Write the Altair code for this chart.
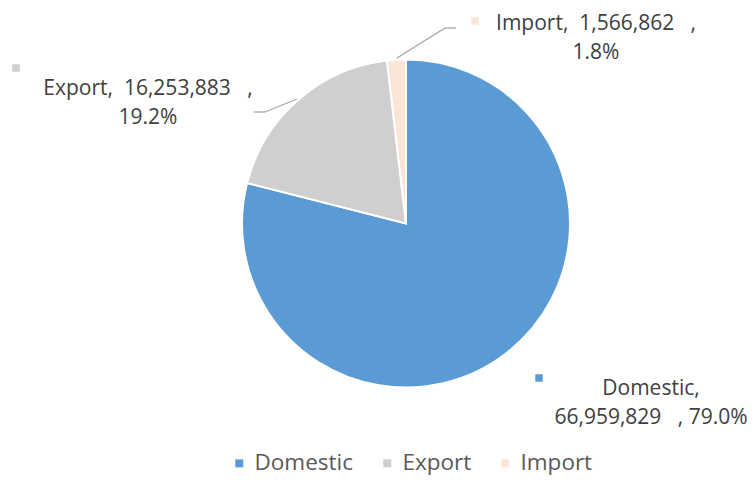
import altair as alt
import pandas as pd

categories = ["Domestic", "Export", "Import"]
values = [66959829, 16253883, 1566862]
percents = ["79.0%", "19.2%", "1.8%"]
colors = ["#5B9BD5", "#D0CECE", "#FBE5D6"]

NB = "\u00a0"
FONT = "Open Sans"

df = pd.DataFrame({"category": categories, "value": values,
                   "order": list(range(len(categories)))})

color_scale = alt.Scale(domain=categories, range=colors)

pie = alt.Chart(df).mark_arc(outerRadius=164, stroke="white", strokeWidth=2).encode(
    theta=alt.Theta("value:Q", stack=True),
    order=alt.Order("order:Q"),
    color=alt.Color("category:N", scale=color_scale, sort=categories,
                    legend=alt.Legend(title=None, orient="none", direction="horizontal",
                                      legendX=220, legendY=444,
                                      symbolType="square", symbolSize=64,
                                      symbolStrokeWidth=0, labelFontSize=22.5,
                                      labelFont=FONT, labelColor="#595959",
                                      labelOffset=4, columnPadding=22)),
    x=alt.value(398), y=alt.value(215.5),
)

# label layout: (text x, text y, marker x, marker y, break after name)
layout = {
    "Domestic": (643, 387, 531, 370, True),
    "Export": (140, 87, 8, 60, False),
    "Import": (588, 22, 467, 13, False),
}

layers = [pie]
for cat, val, pct, col in zip(categories, values, percents, colors):
    tx, ty, mx, my, brk = layout[cat]
    if brk:
        txt = f"{cat},\n{val:,}{NB*3}, {pct}"
    else:
        txt = f"{cat},{NB*2}{val:,}{NB*3},\n{pct}"
    ldf = pd.DataFrame({"label": [txt]})
    layers.append(
        alt.Chart(ldf).mark_text(lineBreak="\n", lineHeight=29, align="center",
                                 baseline="alphabetic", font=FONT, fontSize=21,
                                 color="#404040").encode(
            text="label:N", x=alt.value(tx), y=alt.value(ty))
    )
    layers.append(
        alt.Chart(ldf).mark_point(shape="square", filled=True, size=56, opacity=1,
                                  color=col).encode(
            x=alt.value(mx), y=alt.value(my))
    )

# leader lines
segments = [
    (389, 50, 437, 20), (437, 20, 448, 20),
    (289, 91, 257, 104), (257, 104, 246, 104),
]
for x1, y1, x2, y2 in segments:
    layers.append(
        alt.Chart(pd.DataFrame({"a": [0]})).mark_rule(color="#A6A6A6", strokeWidth=1.3).encode(
            x=alt.value(x1), y=alt.value(y1), x2=alt.value(x2), y2=alt.value(y2))
    )

chart = alt.layer(*layers).properties(
    width=740, height=470, autosize=alt.AutoSizeParams(type="none"), padding=0,
    background="white"
).configure_view(stroke=None)

chart.save("out.html", embed_options={"renderer": "svg", "actions": False})
